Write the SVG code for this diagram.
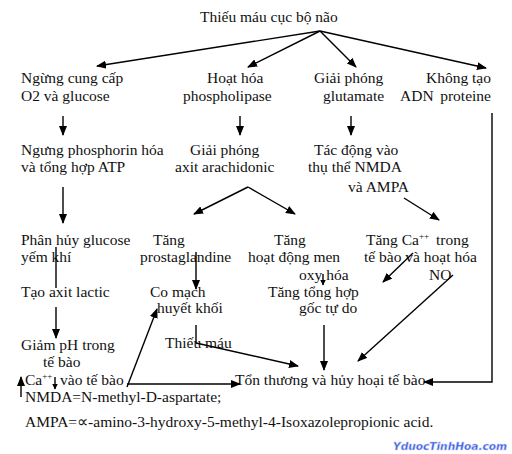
<svg xmlns="http://www.w3.org/2000/svg" width="512" height="454" viewBox="0 0 512 454">
<defs>
<marker id="ah" markerUnits="userSpaceOnUse" markerWidth="10" markerHeight="8" refX="9" refY="4" orient="auto">
<path d="M0,0 L10,4 L0,8 Z" fill="#000"/>
</marker>
<marker id="ahs" markerUnits="userSpaceOnUse" markerWidth="6" markerHeight="6" refX="5.5" refY="3" orient="auto">
<path d="M0,0 L6,3 L0,6 Z" fill="#000"/>
</marker>
<style>
text{font-family:"Liberation Serif","Times New Roman",serif;font-size:15.5px;fill:#111}
.c line,.c polyline{stroke:#000;stroke-width:1.4;fill:none}
.a{marker-end:url(#ah)}
.s{marker-end:url(#ahs)}
.sup{font-size:9px}
.wm{font-family:"DejaVu Sans",sans-serif;font-size:11px;font-weight:bold;font-style:italic;fill:#3a5ad8;stroke:#c8d0ff;stroke-width:0.5}
</style>
</defs>
<rect width="512" height="454" fill="#fff"/>
<g id="title"><text x="200" y="22">Thiếu máu cục bộ não</text></g>
<g id="n1"><text x="21" y="83">Ngừng cung cấp</text><text x="21" y="101">O2 và glucose</text></g>
<g id="n2"><text x="207" y="83">Hoạt hóa</text><text x="183" y="101">phospholipase</text></g>
<g id="n3"><text x="314" y="83">Giải phóng</text><text x="323" y="101">glutamate</text></g>
<g id="n4"><text x="491" y="83" text-anchor="end">Không tạo</text><text x="400" y="101">ADN</text><text x="491" y="101" text-anchor="end">proteine</text></g>
<g id="n5"><text x="21" y="155">Ngưng phosphorin hóa</text><text x="21" y="172">và tổng hợp ATP</text></g>
<g id="n6"><text x="190" y="155">Giải phóng</text><text x="175" y="172">axit arachidonic</text></g>
<g id="n7"><text x="314" y="155">Tác động vào</text><text x="308" y="172">thụ thể NMDA</text><text x="348" y="192">và AMPA</text></g>
<g id="n8"><text x="21" y="245">Phân hủy glucose</text><text x="21" y="262">yếm khí</text></g>
<g id="n9"><text x="153" y="245">Tăng</text><text x="140" y="262">prostaglandine</text></g>
<g id="n10"><text x="274" y="245">Tăng</text><text x="248" y="262">hoạt động men</text><text x="299" y="280">oxy hóa</text></g>
<g id="n11"><text x="366" y="245">Tăng Ca<tspan class="sup" dy="-6">++</tspan></text><text x="436" y="245">trong</text><text x="364" y="262">tế bào và hoạt hóa</text><text x="429" y="280">NO</text></g>
<g id="n12"><text x="21" y="297">Tạo axit lactic</text></g>
<g id="n13"><text x="150" y="297">Co mạch</text><text x="157" y="313">huyết khối</text></g>
<g id="n14"><text x="268" y="297">Tăng tổng hợp</text><text x="299" y="313">gốc tự do</text></g>
<g id="n15"><text x="165" y="348">Thiếu máu</text></g>
<g id="n16"><text x="21" y="350">Giảm pH trong</text><text x="43" y="367">tế bào</text></g>
<g id="n17"><text x="25" y="385">Ca<tspan class="sup" dy="-6">++</tspan></text><text x="60" y="385">vào tế bào</text></g>
<g id="n18"><text x="235" y="385">Tổn thương và hủy hoại tế bào</text></g>
<g id="legend"><text x="25" y="402">NMDA=N-methyl-D-aspartate;</text><text x="25" y="427">AMPA=∝-amino-3-hydroxy-5-methyl-4-Isoxazolepropionic acid.</text></g>
<g id="watermark"><text class="wm" x="393" y="450" textLength="114" lengthAdjust="spacingAndGlyphs">YduocTinhHoa.com</text></g>
<g id="connectors" class="c">
<line class="a" x1="320" y1="31" x2="97" y2="66"/>
<line class="a" x1="320" y1="31" x2="248" y2="67"/>
<line class="a" x1="320" y1="31" x2="356" y2="67"/>
<line class="a" x1="320" y1="31" x2="486" y2="68"/>
<line class="a" x1="63" y1="116" x2="63" y2="135"/>
<line class="a" x1="240" y1="116" x2="240" y2="135"/>
<line class="a" x1="351" y1="116" x2="351" y2="135"/>
<line class="a" x1="63" y1="187" x2="63" y2="223"/>
<line class="a" x1="248" y1="187" x2="194" y2="214"/>
<line class="a" x1="248" y1="187" x2="295" y2="214"/>
<line class="a" x1="404" y1="198" x2="439" y2="220"/>
<line x1="56" y1="247" x2="56" y2="288"/>
<line class="a" x1="56" y1="307" x2="56" y2="338"/>
<line class="a" x1="196" y1="252" x2="196" y2="289"/>
<line class="s" x1="323" y1="274" x2="323" y2="285"/>
<line class="a" x1="413" y1="253" x2="383" y2="282"/>
<line class="a" x1="453" y1="275" x2="358" y2="361"/>
<line x1="196" y1="325" x2="196" y2="343"/>
<line class="a" x1="196" y1="343" x2="298" y2="366"/>
<line class="a" x1="324" y1="325" x2="324" y2="370"/>
<line class="a" x1="127" y1="387" x2="157" y2="309"/>
<line class="a" x1="127" y1="384" x2="240" y2="384"/>
<line class="s" x1="55" y1="377" x2="55" y2="389"/>
<line class="a" x1="21" y1="397" x2="21" y2="377"/>
<polyline class="a" points="492,113 492,382 424,382"/>
</g>
</svg>
